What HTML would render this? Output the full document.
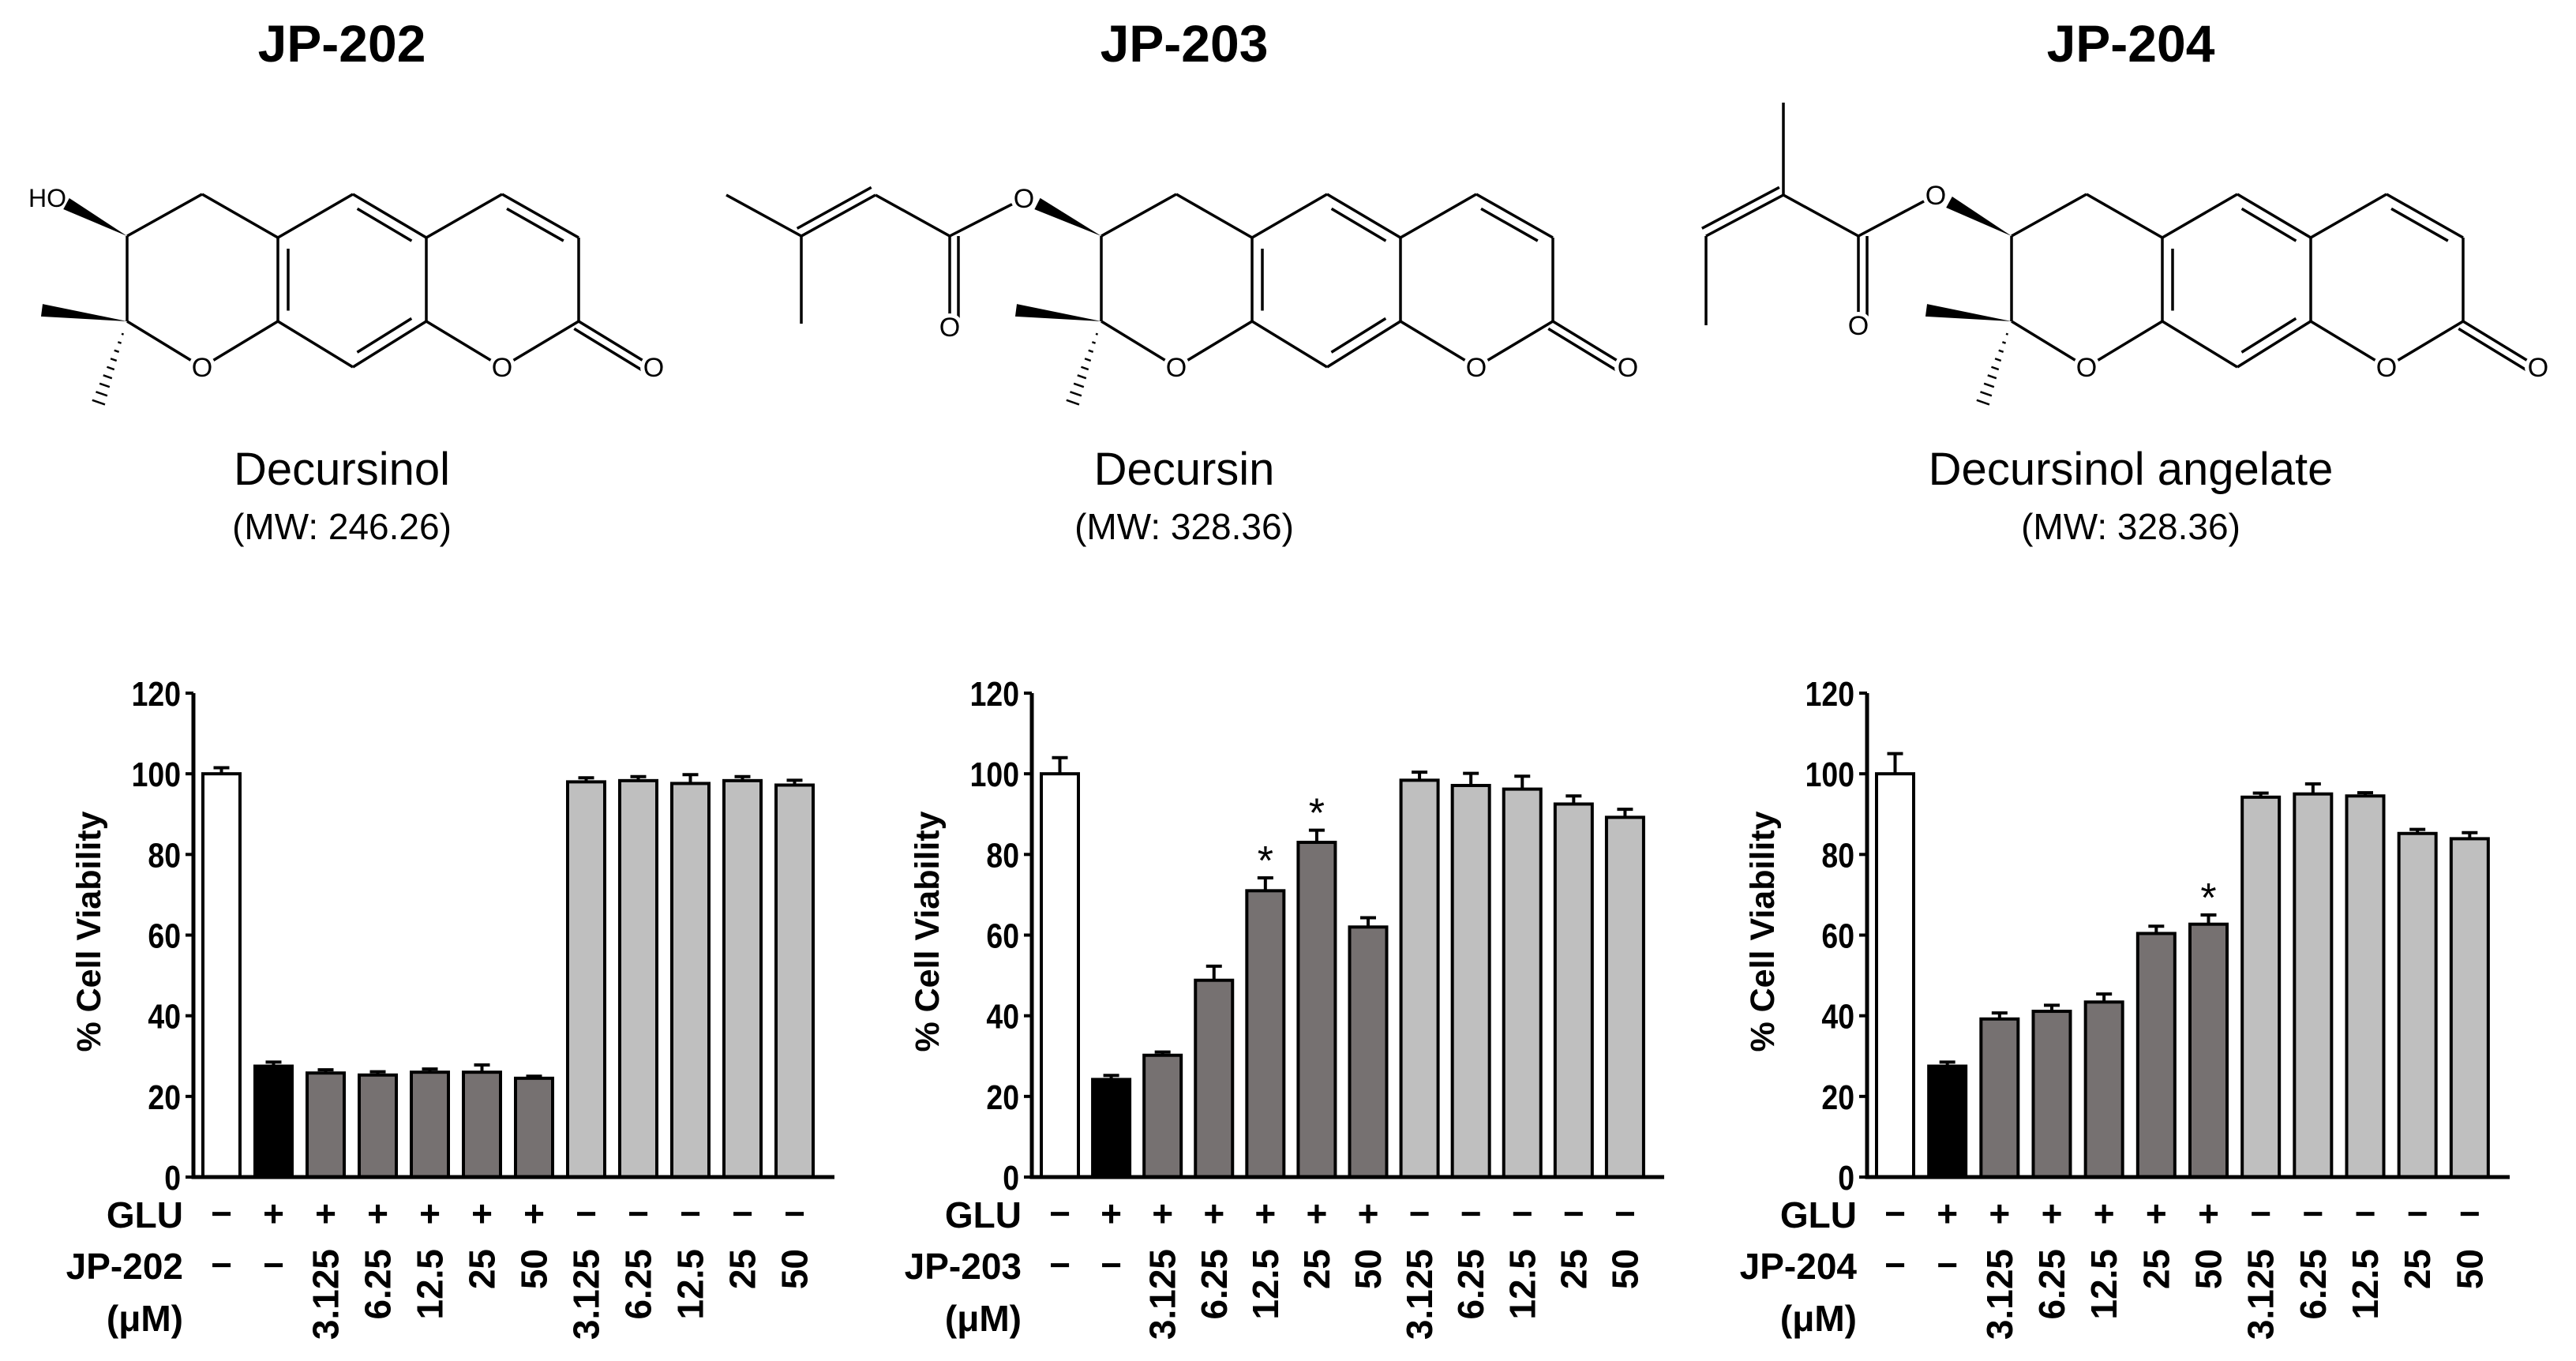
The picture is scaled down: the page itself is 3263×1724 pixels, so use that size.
<!DOCTYPE html>
<html><head><meta charset="utf-8"><style>
html,body{margin:0;padding:0;background:#fff;}
svg{display:block;font-family:"Liberation Sans",Arial,sans-serif;}
</style></head><body>
<svg id="fig" width="3263" height="1724" viewBox="0 0 3263 1724" xmlns="http://www.w3.org/2000/svg">
<g id="structs"></g>
<g id="charts"></g>
</svg>
<script>
// ---------- chart data ----------
const categories = ["ctrl","glu","3.125","6.25","12.5","25","50","3.125b","6.25b","12.5b","25b","50b"];
const gluLabels = ["−","+","+","+","+","+","+","−","−","−","−","−"];
const concLabels = ["−","−","3.125","6.25","12.5","25","50","3.125","6.25","12.5","25","50"];
const yTicks = [0,20,40,60,80,100,120];
const values202 = [100,27.5,25.8,25.3,26,26,24.5,98,98.3,97.6,98.3,97.2];
const errors202 = [1.5,1,0.8,0.8,0.8,1.8,0.5,1,1,2.2,1,1.2];
const stars202 = [0,0,0,0,0,0,0,0,0,0,0,0];
const values203 = [100,24.2,30.2,48.8,71,83,62,98.4,97.1,96.2,92.5,89.2];
const errors203 = [4,1,0.8,3.5,3.2,3,2.3,2,3,3.2,2,2];
const stars203 = [0,0,0,0,1,1,0,0,0,0,0,0];
const values204 = [100,27.5,39.2,41.1,43.4,60.4,62.7,94.2,95,94.5,85.2,83.9];
const errors204 = [5,1,1.5,1.5,2,1.8,2.3,1,2.5,0.8,1,1.5];
const stars204 = [0,0,0,0,0,0,1,0,0,0,0,0];
const barColors = ["#ffffff","#000000","#767171","#767171","#767171","#767171","#767171","#bfbfbf","#bfbfbf","#bfbfbf","#bfbfbf","#bfbfbf"];

const NS="http://www.w3.org/2000/svg";
function mk(tag,attrs,parent){const e=document.createElementNS(NS,tag);for(const k in attrs)e.setAttribute(k,attrs[k]);parent.appendChild(e);return e;}
function txt(s,attrs,parent){const e=mk("text",attrs,parent);e.textContent=s;return e;}

const charts=document.getElementById("charts");
function drawChart(id,x0,x1,vals,errs,stars,compound){
  const g=mk("g",{},charts);
  
  
  const yTop=878,yZero=1491,yMax=120;
  const y=v=>yZero-(v/yMax)*(yZero-yTop);
  const pitch=(x1-x0-20)/categories.length, bw=47;
  const xb=i=>x0+12+i*pitch;
  vals.forEach((v,i)=>{
    const r=mk("rect",{x:xb(i),y:y(v),width:bw,height:yZero-y(v),fill:barColors[i],stroke:"#000","stroke-width":4},g);
    
    
    const cx=xb(i)+bw/2, ye=y(v+errs[i]);
    const e=mk("path",{d:`M${cx},${y(v)}V${ye}M${cx-10},${ye}H${cx+10}`,stroke:"#000","stroke-width":4,fill:"none"},g);
    
    
    if(stars[i]){
      const s=txt("*",{x:cx,y:ye-4,"text-anchor":"middle","font-size":52,fill:"#000"},g);
      
      
    }
    const gl=txt(gluLabels[i],{x:cx,y:1553,"text-anchor":"middle","font-size":46,"font-weight":"bold"},g);
    
    
    const c=concLabels[i];
    if(c==="−"){
      const cl=txt(c,{x:cx,y:1618,"text-anchor":"middle","font-size":46,"font-weight":"bold"},g);
      
      
    }else{
      const cl=txt(c,{x:0,y:0,"text-anchor":"end","font-size":46,"font-weight":"bold",transform:`translate(${cx+16},1582) rotate(-90)`},g);
      
      
    }
  });
  const ax=mk("path",{d:`M${x0},${yTop}V${yZero}H${x1}`,stroke:"#000","stroke-width":5,fill:"none"},g);
  
  
  yTicks.forEach(t=>{
    mk("line",{x1:x0-10,x2:x0,y1:y(t),y2:y(t),stroke:"#000","stroke-width":4},g);
    const tl=txt(String(t),{x:0,y:0,"text-anchor":"end","font-size":44,"font-weight":"bold",transform:`translate(${x0-16},${y(t)+16}) scale(0.85,1)`},g);
    
    
  });
  const yt=txt("% Cell Viability",{x:0,y:0,"text-anchor":"middle","font-size":43,"font-weight":"bold",transform:`translate(${x0-118},1180) rotate(-90)`},g);
  
  
  const r1=txt("GLU",{x:x0-13,y:1555,"text-anchor":"end","font-size":46,"font-weight":"bold"},g);
  
  
  const r2=txt(compound,{x:x0-13,y:1620,"text-anchor":"end","font-size":46,"font-weight":"bold"},g);
  
  
  const r3=txt("(μM)",{x:x0-13,y:1686,"text-anchor":"end","font-size":46,"font-weight":"bold"},g);
  
  
}
drawChart("chart-jp-202",245,1057,values202,errors202,stars202,"JP-202");
drawChart("chart-jp-203",1307,2108,values203,errors203,stars203,"JP-203");
drawChart("chart-jp-204",2365,3179,values204,errors204,stars204,"JP-204");

// ---------- structures ----------
const st=document.getElementById("structs");
const P={a:[161,299],b:[256,246],c:[352,301],d:[447,246],e:[540,301],f:[636,246],g:[733,301],h:[733,407],i:[636,465],j:[540,407],k:[447,465],l:[352,407],m:[256,465],n:[161,407],p:[828,465]};
function line(g,dx,p,q,w){mk("line",{x1:p[0]+dx,y1:p[1],x2:q[0]+dx,y2:q[1],stroke:"#000","stroke-width":w||3.5},g);}
function inner(g,dx,p,q,c){
  const mx=(p[0]+q[0])/2,my=(p[1]+q[1])/2;let vx=c[0]-mx,vy=c[1]-my;const L=Math.hypot(vx,vy);vx*=13/L;vy*=13/L;
  const sp=[p[0]+(q[0]-p[0])*0.13+vx,p[1]+(q[1]-p[1])*0.13+vy],sq=[p[0]+(q[0]-p[0])*0.87+vx,p[1]+(q[1]-p[1])*0.87+vy];
  line(g,dx,sp,sq);
}
function dbl(g,dx,p,q){
  let vx=-(q[1]-p[1]),vy=q[0]-p[0];const L=Math.hypot(vx,vy);vx*=11/L;vy*=11/L;
  line(g,dx,[p[0]+vx,p[1]+vy],[q[0]+vx,q[1]+vy]);
}
function wedge(g,dx,p,q){
  let vx=-(q[1]-p[1]),vy=q[0]-p[0];const L=Math.hypot(vx,vy);vx*=8/L;vy*=8/L;
  mk("polygon",{points:`${p[0]+dx},${p[1]} ${q[0]+dx+vx},${q[1]+vy} ${q[0]+dx-vx},${q[1]-vy}`,fill:"#000"},g);
}
function hashed(g,dx,p,q){
  for(let t=0.15;t<=1.0;t+=0.1){
    const cx=p[0]+(q[0]-p[0])*t,cy=p[1]+(q[1]-p[1])*t;let vx=-(q[1]-p[1]),vy=q[0]-p[0];const L=Math.hypot(vx,vy);const w=9*t;vx*=w/L;vy*=w/L;
    line(g,dx,[cx+vx,cy+vy],[cx-vx,cy-vy],2.5);
  }
}
function olabel(g,dx,p,s){mk("circle",{cx:p[0]+dx,cy:p[1],r:17,fill:"#fff"},g);txt(s||"O",{x:p[0]+dx,y:p[1]+12,"text-anchor":"middle","font-size":34},g);}
function core(name,dx){
  const g=mk("g",{},st);
  
  
  const cB=[446,356],cP=[636,356];
  [["a","b"],["b","c"],["c","d"],["d","e"],["e","f"],["f","g"],["g","h"],["h","i"],["i","j"],["j","e"],["j","k"],["k","l"],["l","c"],["l","m"],["m","n"],["n","a"],["h","p"]].forEach(([u,v])=>line(g,dx,P[u],P[v]));
  inner(g,dx,P.d,P.e,cB);inner(g,dx,P.j,P.k,cB);inner(g,dx,P.l,P.c,cB);inner(g,dx,P.f,P.g,cP);
  dbl(g,dx,P.h,P.p);
  wedge(g,dx,P.n,[53,393]);hashed(g,dx,P.n,[123,515]);
  return g;
}
const g2=core("structure-decursinol",0);
wedge(g2,0,P.a,[84,258]);
txt("HO",{x:60,y:262,"text-anchor":"middle","font-size":32},g2);
olabel(g2,0,P.m);olabel(g2,0,P.i);olabel(g2,0,P.p);
const g3=core("structure-decursin",1234);
const O3=[63,251],C3=[-31,299],O3b=[-31,414],CH3=[-125,247],Cq=[-219,299],M1=[-314,247],M2=[-219,410];
wedge(g3,1234,P.a,[80,258]);
line(g3,1234,O3,C3);line(g3,1234,C3,O3b);dbl(g3,1234,O3b,C3);line(g3,1234,C3,CH3);line(g3,1234,CH3,Cq);dbl(g3,1234,CH3,Cq);line(g3,1234,Cq,M1);line(g3,1234,Cq,M2);
olabel(g3,1234,O3);olabel(g3,1234,O3b);olabel(g3,1234,P.m);olabel(g3,1234,P.i);olabel(g3,1234,P.p);
const g4=core("structure-decursinol-angelate",2387);
const O4=[65,247],C4=[-33,299],O4b=[-33,412],Ca=[-128,247],Me=[-128,130],CHb=[-226,299],Et=[-226,412];
wedge(g4,2387,P.a,[82,256]);
line(g4,2387,O4,C4);line(g4,2387,C4,O4b);dbl(g4,2387,O4b,C4);line(g4,2387,C4,Ca);line(g4,2387,Ca,Me);line(g4,2387,Ca,CHb);dbl(g4,2387,Ca,CHb);line(g4,2387,CHb,Et);
olabel(g4,2387,O4);olabel(g4,2387,O4b);olabel(g4,2387,P.m);olabel(g4,2387,P.i);olabel(g4,2387,P.p);

[["JP-202","Decursinol","(MW: 246.26)",433],["JP-203","Decursin","(MW: 328.36)",1500],["JP-204","Decursinol angelate","(MW: 328.36)",2699]].forEach(([t,n,mw,cx])=>{
  const h=txt(t,{x:cx,y:78,"text-anchor":"middle","font-size":66,"font-weight":"bold"},st);
  
  
  const nm=txt(n,{x:cx,y:614,"text-anchor":"middle","font-size":58},st);
  
  
  const m=txt(mw,{x:cx,y:683,"text-anchor":"middle","font-size":46},st);
  
  
});
</script>
</body></html>
